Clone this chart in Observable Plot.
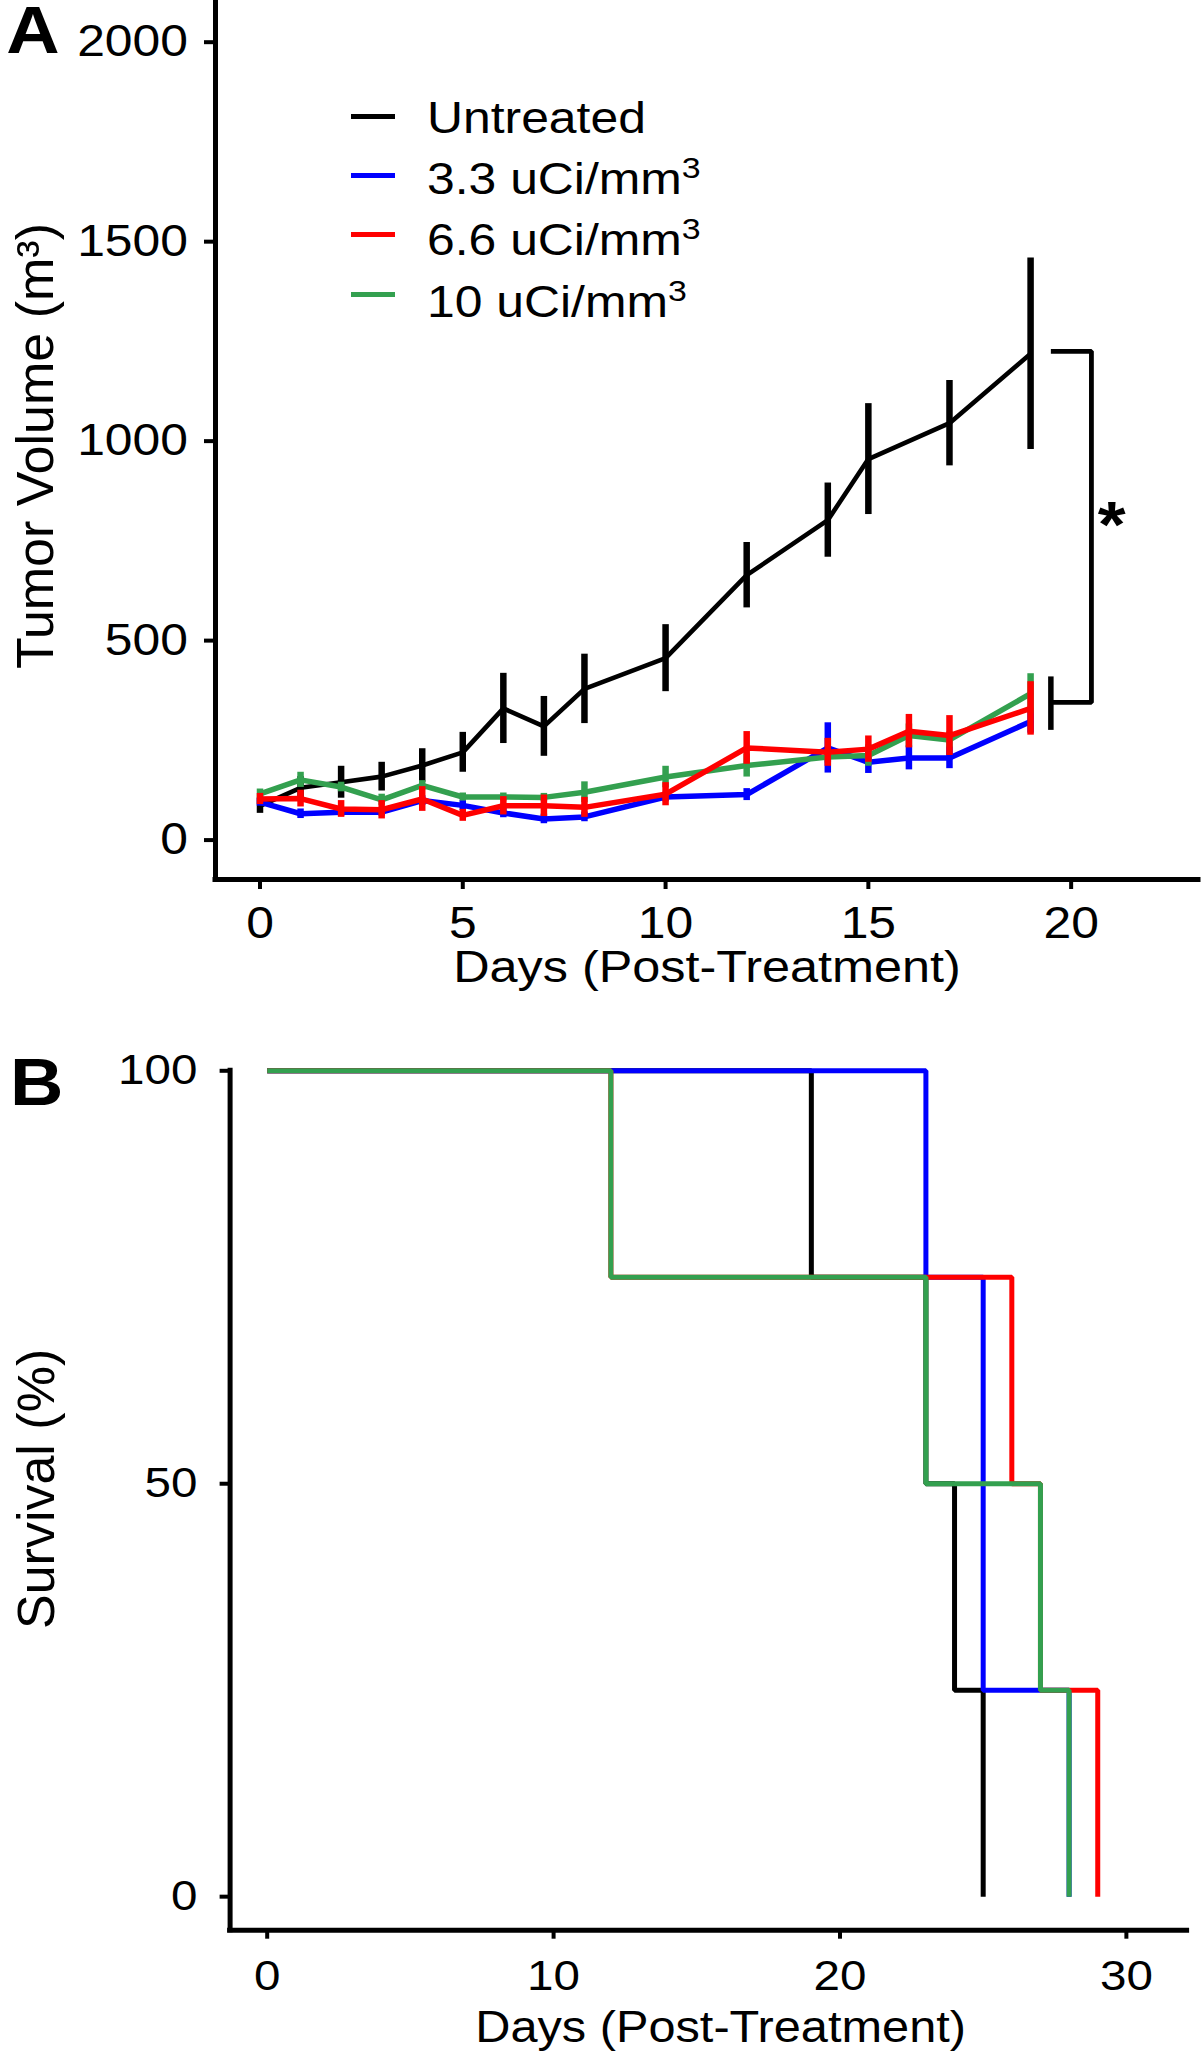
<!DOCTYPE html>
<html>
<head>
<meta charset="utf-8">
<script src="https://cdn.jsdelivr.net/npm/d3@7"></script>
<script src="https://cdn.jsdelivr.net/npm/@observablehq/plot@0.6"></script>
<style>
  html, body { margin: 0; padding: 0; background: #fff; overflow: hidden; }
  #wrap { position: relative; width: 1202px; height: 2070px; }
  #wrap svg { display: block; }
  #legend { position: absolute; left: 0; top: 0; width: 0; height: 0;
    font-family: "Liberation Sans", Arial, Helvetica, sans-serif; font-size: 44.5px; color: #000; }
  .sw { position: absolute; width: 44px; height: 5px; }
  .lab { position: absolute; white-space: nowrap; line-height: 44.5px; transform: scaleX(1.12); transform-origin: 0 50%; }
  .lab sup { font-size: 0.68em; line-height: 0; vertical-align: 16px; }
</style>
</head>
<body>
<div id="wrap"><div id="legend"></div></div>
<script>
// ---------------- DATA ----------------
// Panel A: tumor volume (mean ± error) by day
const untreatedDays = [0, 1, 2, 3, 4, 5, 6, 7, 8, 10, 12, 14, 15, 17, 19];
const untreatedMean = [86, 131, 145, 159, 187, 220, 330, 285, 379, 456, 664, 802, 955, 1045, 1219];
const untreatedErr  = [19, 28, 40, 36, 42, 50, 88, 75, 87, 84, 82, 93, 139, 107, 240];

const treatedDays = [0, 1, 2, 3, 4, 5, 6, 7, 8, 10, 12, 14, 15, 16, 17, 19];
const dose33Mean = [95, 66, 70, 70, 99, 87, 68, 53, 58, 108, 114, 231, 195, 206, 206, 297];
const dose33Err  = [10, 12, 10, 10, 12, 12, 12, 12, 12, 12, 15, 63, 28, 30, 27, 29];
const dose66Mean = [103, 104, 78, 76, 103, 62, 86, 86, 82, 115, 231, 220, 228, 273, 262, 330];
const dose66Err  = [14, 21, 21, 23, 31, 15, 23, 27, 25, 29, 41, 35, 33, 42, 50, 67];
const dose10Mean = [116, 151, 133, 101, 137, 108, 108, 107, 120, 158, 187, 208, 212, 262, 251, 367];
const dose10Err  = [12, 19, 12, 14, 12, 10, 10, 10, 26, 27, 29, 15, 27, 29, 20, 50];

const seriesNames = ["Untreated", "3.3 uCi/mm³", "6.6 uCi/mm³", "10 uCi/mm³"];
const seriesColors = ["#000000", "#0000ff", "#ff0000", "#33a04f"];

// significance annotation (days, volumes)
const sigBracketDays = [19.5, 20.5];
const sigBracketValues = [1225, 345];
const sigTickValues = [275, 409];
const sigStarDay = [21.0];
const sigLabel = "*";

// Panel B: survival (%) step curves
const survUntreatedDays = [0, 19, 23, 24, 25];
const survUntreated     = [100, 75, 50, 25, 0];
const surv33Days = [0, 23, 25, 28];
const surv33     = [100, 75, 25, 0];
const surv66Days = [0, 12, 26, 27, 29];
const surv66     = [100, 75, 50, 25, 0];
const surv10Days = [0, 12, 23, 27, 28];
const surv10     = [100, 75, 50, 25, 0];

// tick labels & titles
const xTicksA = [0, 5, 10, 15, 20];
const yTicksA = [0, 500, 1000, 1500, 2000];
const xTicksB = [0, 10, 20, 30];
const yTicksB = [0, 50, 100];
const xTitle = "Days (Post-Treatment)";
const yTitleA = "Tumor Volume (m³)";
const yTitleB = "Survival (%)";

// ---------------- CHART ----------------
const font = '"Liberation Sans", Arial, Helvetica, sans-serif';
const svgStyle = {fontFamily: font, color: "#000", background: "#fff"};
const STRETCH = 1.12; // the original horizontal typesetting is slightly wide

const table = (days, mean, err) => days.map((d, i) => ({day: d, mean: mean[i], err: err[i] || 0}));
const tumorSeries = [
  table(untreatedDays, untreatedMean, untreatedErr),
  table(treatedDays, dose33Mean, dose33Err),
  table(treatedDays, dose10Mean, dose10Err),
  table(treatedDays, dose66Mean, dose66Err)
];
const tumorColors = [seriesColors[0], seriesColors[1], seriesColors[3], seriesColors[2]];
const tumorWidths = [4.6, 5.5, 5.5, 5.5];

const xDomainA = [-1.097, 23.14];
const yDomainA = [-98.8, 2104.5];

const seriesMarks = [];
tumorSeries.forEach((t, i) => {
  seriesMarks.push(Plot.ruleX(t, {x: "day", y1: d => d.mean - d.err, y2: d => d.mean + d.err,
    stroke: tumorColors[i], strokeWidth: 6.5}));
  seriesMarks.push(Plot.line(t, {x: "day", y: "mean", stroke: tumorColors[i], strokeWidth: tumorWidths[i],
    strokeLinejoin: "round"}));
});

const bracketPts = [
  {day: sigBracketDays[0], v: sigBracketValues[0]},
  {day: sigBracketDays[1], v: sigBracketValues[0]},
  {day: sigBracketDays[1], v: sigBracketValues[1]},
  {day: sigBracketDays[0], v: sigBracketValues[1]}
];

const chartA = Plot.plot({
  width: 1202, height: 1030,
  marginLeft: 215, marginRight: 4, marginTop: 0, marginBottom: 151,
  x: {domain: xDomainA},
  y: {domain: yDomainA},
  style: svgStyle,
  marks: [
    Plot.ruleX([xDomainA[0]], {strokeWidth: 5, strokeLinecap: "square"}),
    Plot.ruleY([yDomainA[0]], {strokeWidth: 5, strokeLinecap: "square"}),
    Plot.axisY(yTicksA, {anchor: "left", tickSize: 11, tickPadding: 16.5, tickFormat: "d", fontSize: 44.5, strokeWidth: 4, label: null}),
    Plot.axisX(xTicksA, {anchor: "bottom", tickSize: 10, tickPadding: 16.5, tickFormat: "d", fontSize: 44.5, strokeWidth: 4, label: null}),
    ...seriesMarks,
    Plot.line(bracketPts, {x: "day", y: "v", stroke: "#000", strokeWidth: 4.8, strokeLinejoin: "miter", strokeLinecap: "butt"}),
    Plot.ruleX([sigBracketDays[0]], {y1: sigTickValues[0], y2: sigTickValues[1], stroke: "#000", strokeWidth: 5.5}),
    Plot.text(sigStarDay, {x: d => d, y: (sigBracketValues[0] + sigBracketValues[1]) / 2, text: () => sigLabel,
      fontSize: 64, fontWeight: "bold"}),
    Plot.text([xTitle], {frameAnchor: "bottom", dy: 102, fontSize: 45}),
    Plot.text([yTitleA], {frameAnchor: "left", textAnchor: "middle", rotate: -90, dx: -179.6, dy: 6, fontSize: 52}),
    Plot.text(["A"], {frameAnchor: "top-left", textAnchor: "start", lineAnchor: "top", dx: -209.3, dy: 6,
      fontSize: 66, fontWeight: "bold"})
  ]
});

// Panel B
const survTable = (days, vals) => days.map((d, i) => ({day: d, s: vals[i]}));
const survSeries = [
  [survTable(survUntreatedDays, survUntreated), seriesColors[0]],
  [survTable(surv33Days, surv33), seriesColors[1]],
  [survTable(surv66Days, surv66), seriesColors[2]],
  [survTable(surv10Days, surv10), seriesColors[3]]
];
const xDomainB = [-1.295, 32.12];
const yDomainB = [-4.06, 100];

const chartB = Plot.plot({
  width: 1202, height: 1040,
  marginLeft: 229.6, marginRight: 15.4, marginTop: 40.3, marginBottom: 140.3,
  x: {domain: xDomainB},
  y: {domain: yDomainB},
  style: svgStyle,
  marks: [
    Plot.ruleX([xDomainB[0]], {strokeWidth: 5, strokeLinecap: "square"}),
    Plot.ruleY([yDomainB[0]], {strokeWidth: 5, strokeLinecap: "square"}),
    Plot.axisY(yTicksB, {anchor: "left", tickSize: 10, tickPadding: 22.6, tickFormat: "d", fontSize: 42.5, strokeWidth: 4, label: null}),
    Plot.axisX(xTicksB, {anchor: "bottom", tickSize: 9, tickPadding: 20.3, tickFormat: "d", fontSize: 42.5, strokeWidth: 4, label: null}),
    ...survSeries.map(([t, c]) => Plot.line(t, {x: "day", y: "s", curve: "step-after", stroke: c, strokeWidth: 5,
      strokeLinejoin: "miter", strokeLinecap: "butt"})),
    Plot.text([xTitle], {frameAnchor: "bottom", dx: 12, dy: 111.5, fontSize: 43.5}),
    Plot.text([yTitleB], {frameAnchor: "left", textAnchor: "middle", rotate: -90, dx: -192.9, dy: -11.6, fontSize: 52}),
    Plot.text(["B"], {frameAnchor: "top-left", textAnchor: "start", lineAnchor: "top", dx: -220, dy: -12.3,
      fontSize: 66, fontWeight: "bold"})
  ]
});

// widen horizontal glyphs; rotated titles keep natural proportions
function stretchTexts(svg) {
  svg.querySelectorAll("text").forEach(t => {
    const tr = t.getAttribute("transform");
    if (tr && /rotate\(/.test(tr)) return;
    if (tr) {
      t.setAttribute("transform", tr + ` scale(${STRETCH},1)`);
    } else {
      const x = +(t.getAttribute("x") || 0);
      t.setAttribute("transform", `translate(${x},0) scale(${STRETCH},1) translate(${-x},0)`);
    }
  });
}
stretchTexts(chartA);
stretchTexts(chartB);

const wrap = document.getElementById("wrap");
wrap.appendChild(chartA);
wrap.appendChild(chartB);

// Legend (inside panel A, HTML overlay)
const legend = document.getElementById("legend");
seriesNames.forEach((name, i) => {
  const ySw = 116.7 + 59.1 * i;
  const yTx = 117.5 + 61.3 * i;
  const sw = document.createElement("div");
  sw.className = "sw";
  sw.style.left = "351px";
  sw.style.top = (ySw - 2.5) + "px";
  sw.style.background = seriesColors[i];
  legend.appendChild(sw);
  const lab = document.createElement("div");
  lab.className = "lab";
  lab.style.left = "426.7px";
  lab.style.top = (yTx - 21.8) + "px";
  lab.innerHTML = name.replace("³", "<sup>3</sup>");
  legend.appendChild(lab);
});
</script>
</body>
</html>
